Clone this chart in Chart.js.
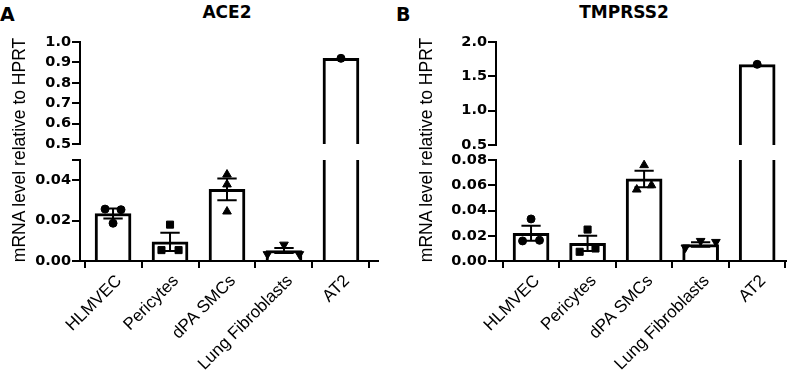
<!DOCTYPE html>
<html>
<head>
<meta charset="utf-8">
<script src="https://cdn.jsdelivr.net/npm/chart.js@4.4.1/dist/chart.umd.min.js"></script>
<style>
  body { margin: 0; background: #fff; }
  #fig { position: relative; width: 796px; height: 374px; overflow: hidden; color: #000; }
  #fig canvas { position: absolute; }
  .lbl { position: absolute; font-family: 'DejaVu Sans'; font-weight: bold; color: #000; white-space: nowrap; }
  .ttl { width: 200px; text-align: center; font-size: 17px; line-height: 17px; top: 4px; }
  .ytitle { position: absolute; font-family: 'Liberation Sans'; font-size: 17.5px; line-height: 18px; color: #000;
            width: 260px; height: 18px; text-align: center; white-space: nowrap;
            transform: rotate(-90deg); will-change: transform; }
</style>
</head>
<body>
<div id="fig">
  <div class="lbl" style="left:0;top:5px;font-size:19px;line-height:19px">A</div>
  <div class="lbl ttl" style="left:127px">ACE2</div>
  <div class="lbl" style="left:396px;top:5px;font-size:19px;line-height:19px">B</div>
  <div class="lbl ttl" style="left:524px">TMPRSS2</div>
  <div class="ytitle" style="left:-111px;top:141px">mRNA level relative to HPRT</div>
  <div class="ytitle" style="left:296px;top:141px">mRNA level relative to HPRT</div>

  <canvas id="aTop" width="378" height="122" style="left:10px;top:32px"></canvas>
  <canvas id="aBot" width="378" height="224" style="left:10px;top:150px"></canvas>
  <canvas id="bTop" width="370" height="123" style="left:426px;top:32px"></canvas>
  <canvas id="bBot" width="370" height="224" style="left:426px;top:150px"></canvas>
</div>

<script>
const categories = ['HLMVEC', 'Pericytes', 'dPA SMCs', 'Lung Fibroblasts', 'AT2'];

// ACE2 : moyenne, SEM et points individuels
const ace2Mean = [0.0235, 0.0095, 0.0355, 0.0052, 0.92];
const ace2Sem = [0.0025, 0.0045, 0.0054, 0.0012, null];
const ace2Points = [
    [0.0257, 0.0254, 0.0187],
    [0.0180, 0.0054, 0.0054],
    [0.0428, 0.0379, 0.0245],
    [0.0081, 0.0034, 0.0034],
    [0.92]
];
const ace2Jitter = [[-0.14, 0.14, 0], [0, -0.15, 0.15], [0, 0, 0], [0, -0.29, 0.27], [0]];
const ace2TopTicks = [0.5, 0.6, 0.7, 0.8, 0.9, 1.0];
const ace2TopLabels = ['0.5', '0.6', '0.7', '0.8', '0.9', '1.0'];
const ace2BotTicks = [0, 0.02, 0.04, 0.05];
const ace2BotLabels = ['0.00', '0.02', '0.04', ''];

// TMPRSS2
const tmprssMean = [0.022, 0.014, 0.065, 0.013, 1.67];
const tmprssSem = [0.006, 0.006, 0.0065, 0.0018, null];
const tmprssPoints = [
    [0.0333, 0.0159, 0.0164],
    [0.0249, 0.0073, 0.0099],
    [0.0759, 0.0566, 0.0600],
    [0.0159, 0.0151, 0.0107],
    [1.675]
];
const tmprssJitter = [[0, -0.15, 0.15], [0, -0.14, 0.14], [0, -0.13, 0.13], [0, 0.27, -0.27], [0]];
const tmprssTopTicks = [0.5, 1.0, 1.5, 2.0];
const tmprssTopLabels = ['0.5', '1.0', '1.5', '2.0'];
const tmprssBotTicks = [0, 0.02, 0.04, 0.06, 0.08];
const tmprssBotLabels = ['0.00', '0.02', '0.04', '0.06', '0.08'];

const markers = ['circle', 'rect', 'triangle', 'triangle', 'circle'];
const markerRot = [0, 0, 0, 180, 0];
const markerSize = [4, 5, 5, 5, 4];

function makeChart(id, c) {
    const lo = c.tickVals[0];
    const hi = c.tickVals[c.tickVals.length - 1];
    const inRange = v => v >= lo && v <= hi;

    // barres (on garde celles qui atteignent la plage de l'axe)
    const bars = categories.map((_, i) => ({ x: i, y: c.mean[i] >= lo ? c.mean[i] : null }));

    // barres d'erreur : moyenne +/- SEM
    const cap = 0.17;
    const err = [];
    c.sem.forEach((s, i) => {
        if (s == null || !inRange(c.mean[i])) return;
        const up = c.mean[i] + s, dn = c.mean[i] - s;
        err.push({ x: i - cap, y: up }, { x: i + cap, y: up }, { x: i, y: null },
                 { x: i, y: up }, { x: i, y: dn }, { x: i, y: null },
                 { x: i - cap, y: dn }, { x: i + cap, y: dn }, { x: i, y: null });
    });

    const pts = categories.map((_, i) => ({
        type: 'scatter',
        data: c.points[i].map((v, k) => ({ x: i + c.jitter[i][k], y: v })).filter(p => inRange(p.y)),
        pointStyle: markers[i],
        pointRotation: markerRot[i],
        pointRadius: markerSize[i],
        pointBackgroundColor: '#000',
        pointBorderColor: '#000',
        pointBorderWidth: 1,
        order: 1
    }));

    const axisLine = { display: true, drawOnChartArea: false, drawTicks: true, lineWidth: 2, color: '#000' };

    return new Chart(document.getElementById(id), {
        type: 'bar',
        data: {
            datasets: [
                { type: 'bar', data: bars, backgroundColor: '#fff', borderColor: '#000', borderWidth: 3,
                  barThickness: 36, borderSkipped: 'start', clip: 0, order: 3 },
                { type: 'line', data: err, borderColor: '#000', borderWidth: 2, pointRadius: 0,
                  fill: false, spanGaps: false, tension: 0, order: 2 },
                ...pts
            ]
        },
        options: {
            responsive: false,
            animation: false,
            layout: { padding: { top: 10, bottom: c.showX ? 0 : 10, left: 0, right: 10 } },
            plugins: { legend: { display: false }, tooltip: { enabled: false } },
            scales: {
                x: {
                    type: 'linear', min: c.xMin, max: c.xMax, offset: false,
                    display: c.showX,
                    afterBuildTicks: s => { s.ticks = categories.map((_, i) => ({ value: i })); },
                    afterFit: s => { if (c.showX) s.height = 113; },
                    ticks: {
                        autoSkip: false, minRotation: 45, maxRotation: 45, padding: 3, labelOffset: 6,
                        color: '#000',
                        font: { family: 'Liberation Sans', size: 17 },
                        callback: v => categories[v]
                    },
                    grid: { ...axisLine, tickLength: 7 },
                    border: { display: true, color: '#000', width: 2 }
                },
                y: {
                    type: 'linear', min: lo, max: hi,
                    afterBuildTicks: s => { s.ticks = c.tickVals.map(v => ({ value: v })); },
                    afterFit: s => { s.width = 70; },
                    ticks: {
                        autoSkip: false, padding: 1, color: '#000',
                        font: { family: 'DejaVu Sans', size: 14.5, weight: 'bold' },
                        callback: (v, idx) => c.tickLabels[idx]
                    },
                    grid: { ...axisLine, tickLength: 8 },
                    border: { display: true, color: '#000', width: 2 }
                }
            }
        }
    });
}

const ace2X = { xMin: -0.58, xMax: 4.65 };
const tmprssX = { xMin: -0.62, xMax: 4.51 };

makeChart('aTop', { ...ace2X, mean: ace2Mean, sem: ace2Sem, points: ace2Points, jitter: ace2Jitter,
    tickVals: ace2TopTicks, tickLabels: ace2TopLabels, showX: false });
makeChart('aBot', { ...ace2X, mean: ace2Mean, sem: ace2Sem, points: ace2Points, jitter: ace2Jitter,
    tickVals: ace2BotTicks, tickLabels: ace2BotLabels, showX: true });
makeChart('bTop', { ...tmprssX, mean: tmprssMean, sem: tmprssSem, points: tmprssPoints, jitter: tmprssJitter,
    tickVals: tmprssTopTicks, tickLabels: tmprssTopLabels, showX: false });
makeChart('bBot', { ...tmprssX, mean: tmprssMean, sem: tmprssSem, points: tmprssPoints, jitter: tmprssJitter,
    tickVals: tmprssBotTicks, tickLabels: tmprssBotLabels, showX: true });
</script>
</body>
</html>
